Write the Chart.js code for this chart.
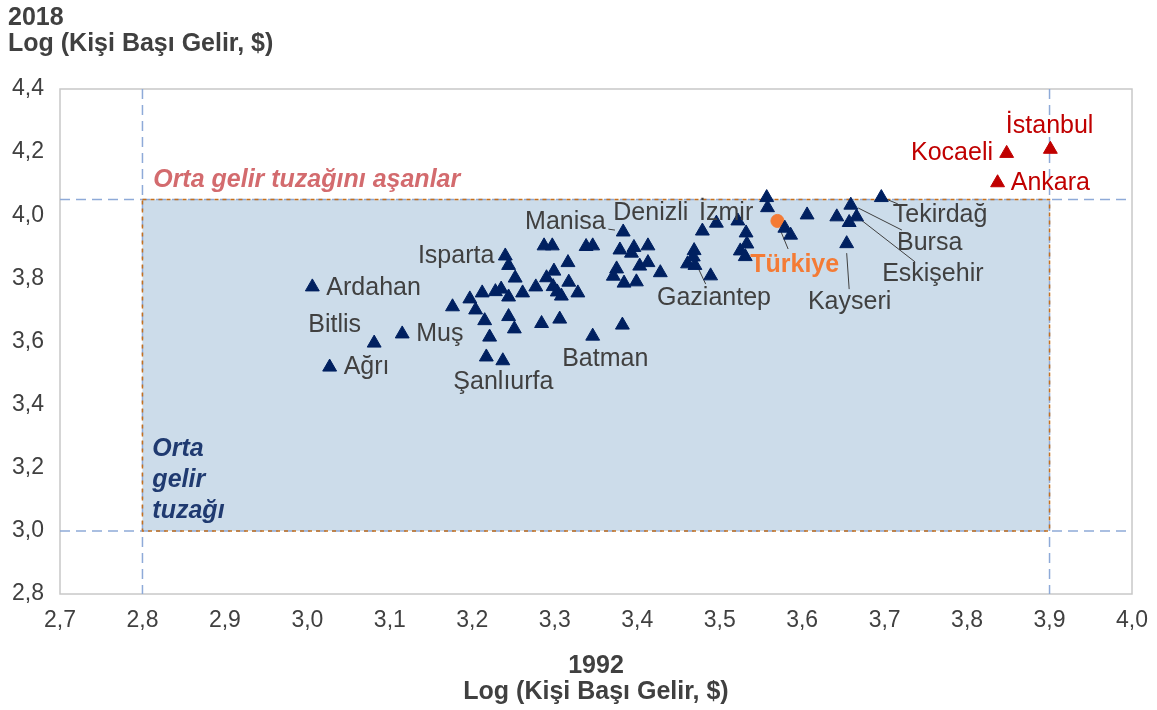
<!DOCTYPE html>
<html lang="tr">
<head>
<meta charset="utf-8">
<title>Kişi Başı Gelir 1992 - 2018</title>
<script src="https://cdn.jsdelivr.net/npm/chart.js@4/dist/chart.umd.min.js"></script>
<style>
  html, body { margin: 0; padding: 0; background: #fff; }
  #wrap { width: 1157px; height: 710px; position: relative; }
</style>
</head>
<body>
<div id="wrap"><canvas id="chart"></canvas></div>
<script>
/* ===== veriler (log kişi başı gelir, 1992 -> x, 2018 -> y) ===== */
const illerX = [
  3.006, 3.081, 3.115, 3.027,
  3.176, 3.197, 3.204, 3.212, 3.228, 3.235, 3.244, 3.261, 3.277, 3.290, 3.299, 3.316,
  3.298, 3.303, 3.308, 3.317, 3.328, 3.240, 3.244, 3.252, 3.244, 3.251, 3.215, 3.221,
  3.284, 3.306, 3.346, 3.217, 3.237, 3.287, 3.297, 3.338, 3.346, 3.383, 3.379, 3.396,
  3.413, 3.393, 3.375, 3.371, 3.403, 3.413, 3.428, 3.384, 3.399, 3.382,
  3.479, 3.469, 3.468, 3.461, 3.470, 3.489, 3.496, 3.522, 3.532, 3.533, 3.525, 3.531,
  3.557, 3.558, 3.579, 3.586, 3.606, 3.642, 3.659, 3.666, 3.657, 3.654, 3.696
];
const illerY = [
  3.773, 3.595, 3.624, 3.519,
  3.710, 3.735, 3.700, 3.754, 3.758, 3.766, 3.741, 3.754, 3.773, 3.802, 3.823, 3.850,
  3.774, 3.757, 3.744, 3.788, 3.754, 3.871, 3.841, 3.801, 3.679, 3.640, 3.666, 3.614,
  3.657, 3.671, 3.617, 3.551, 3.539, 3.903, 3.903, 3.901, 3.903, 3.947, 3.890, 3.898,
  3.903, 3.880, 3.830, 3.807, 3.839, 3.850, 3.818, 3.785, 3.789, 3.652,
  3.950, 3.888, 3.868, 3.846, 3.841, 3.808, 3.975, 3.982, 3.944, 3.909, 3.887, 3.869,
  4.056, 4.024, 3.959, 3.937, 4.001, 3.995, 4.032, 3.995, 3.977, 3.910, 4.056
];
// orta gelir tuzağını aşanlar
const asanlarAd = ['Kocaeli', 'İstanbul', 'Ankara'];
const asanlarX = [3.848, 3.901, 3.837];
const asanlarY = [4.196, 4.209, 4.103];
// Türkiye ortalaması
const turkiyeX = [3.570];
const turkiyeY = [3.982];

// tuzak sınırları
const tuzakX = [2.8, 3.9];
const tuzakY = [3.0, 4.05];

// etiketler (veri birimleriyle, yazının sol-orta noktası)
const etiketler = [
  { t: 'Ardahan', x: 3.023, y: 3.769, k: 'il' },
  { t: 'Bitlis', x: 3.001, y: 3.652, k: 'il' },
  { t: 'Muş', x: 3.132, y: 3.624, k: 'il' },
  { t: 'Ağrı', x: 3.044, y: 3.519, k: 'il' },
  { t: 'Isparta', x: 3.134, y: 3.871, k: 'il' },
  { t: 'Manisa', x: 3.264, y: 3.979, k: 'il' },
  { t: 'Denizli', x: 3.371, y: 4.007, k: 'il' },
  { t: 'İzmir', x: 3.475, y: 4.007, k: 'il' },
  { t: 'Gaziantep', x: 3.424, y: 3.738, k: 'il' },
  { t: 'Batman', x: 3.309, y: 3.545, k: 'il' },
  { t: 'Şanlıurfa', x: 3.177, y: 3.472, k: 'il' },
  { t: 'Kayseri', x: 3.607, y: 3.725, k: 'il' },
  { t: 'Tekirdağ', x: 3.710, y: 4.001, k: 'il' },
  { t: 'Bursa', x: 3.715, y: 3.912, k: 'il' },
  { t: 'Eskişehir', x: 3.697, y: 3.814, k: 'il' },
  { t: 'Türkiye', x: 3.537, y: 3.842, k: 'tr' },
  { t: 'Kocaeli', x: 3.732, y: 4.197, k: 'ust' },
  { t: 'İstanbul', x: 3.847, y: 4.283, k: 'ust' },
  { t: 'Ankara', x: 3.853, y: 4.102, k: 'ust' }
];
// kılavuz çizgileri [x1, y1, x2, y2]
const kilavuzlar = [
  [3.365, 3.956, 3.373, 3.953],
  [3.474, 3.832, 3.483, 3.782],
  [3.574, 3.950, 3.583, 3.893],
  [3.654, 3.880, 3.657, 3.766],
  [3.702, 4.051, 3.716, 4.036],
  [3.668, 4.023, 3.721, 3.953],
  [3.670, 3.988, 3.737, 3.852]
];

/* ===== renkler / yazılar ===== */
const FONT = 'Arial, "Liberation Sans", sans-serif';
const GRI = '#404040';
const LACIVERT = '#002060';
const KIRMIZI = '#c00000';
const TURUNCU = '#f47b35';

function virgul(v) { return Number(v).toFixed(1).replace('.', ','); }
function pts(xs, ys) { return xs.map((x, i) => ({ x: x, y: ys[i] })); }

const ciziciEklenti = {
  id: 'cizici',
  beforeDatasetsDraw(chart) {
    const { ctx, chartArea: a, scales: { x, y } } = chart;
    ctx.save();
    // tuzak kutusu
    const l = x.getPixelForValue(tuzakX[0]), r = x.getPixelForValue(tuzakX[1]);
    const t = y.getPixelForValue(tuzakY[1]), b = y.getPixelForValue(tuzakY[0]);
    ctx.fillStyle = '#ccdcea';
    ctx.fillRect(l, t, r - l, b - t);
    // grafik çerçevesi
    ctx.strokeStyle = '#c8c8c8';
    ctx.lineWidth = 1.5;
    ctx.strokeRect(a.left, a.top, a.right - a.left, a.bottom - a.top);
    // kesikli referans çizgileri
    ctx.strokeStyle = '#8eaad8';
    ctx.lineWidth = 1.5;
    ctx.setLineDash([10, 6]);
    tuzakY.forEach(v => {
      const py = y.getPixelForValue(v);
      ctx.beginPath(); ctx.moveTo(a.left, py); ctx.lineTo(a.right, py); ctx.stroke();
    });
    tuzakX.forEach(v => {
      const px = x.getPixelForValue(v);
      ctx.beginPath(); ctx.moveTo(px, a.top); ctx.lineTo(px, a.bottom); ctx.stroke();
    });
    // turuncu kutu kenarı
    ctx.strokeStyle = '#c5701e';
    ctx.setLineDash([4, 4]);
    ctx.strokeRect(l, t, r - l, b - t);
    ctx.setLineDash([]);
    // kılavuz çizgileri
    ctx.strokeStyle = '#404040';
    ctx.lineWidth = 1;
    kilavuzlar.forEach(k => {
      ctx.beginPath();
      ctx.moveTo(x.getPixelForValue(k[0]), y.getPixelForValue(k[1]));
      ctx.lineTo(x.getPixelForValue(k[2]), y.getPixelForValue(k[3]));
      ctx.stroke();
    });
    ctx.restore();
  },
  afterDatasetsDraw(chart) {
    const { ctx, chartArea: a, scales: { x, y } } = chart;
    ctx.save();
    ctx.textBaseline = 'middle';
    ctx.textAlign = 'left';
    etiketler.forEach(e => {
      if (e.k === 'tr') { ctx.font = 'bold 25px ' + FONT; ctx.fillStyle = TURUNCU; }
      else if (e.k === 'ust') { ctx.font = '25px ' + FONT; ctx.fillStyle = KIRMIZI; }
      else { ctx.font = '25px ' + FONT; ctx.fillStyle = GRI; }
      ctx.fillText(e.t, x.getPixelForValue(e.x), y.getPixelForValue(e.y));
    });
    // bölge yazıları
    ctx.font = 'italic bold 25px ' + FONT;
    ctx.fillStyle = '#d36b6e';
    ctx.fillText('Orta gelir tuzağını aşanlar', x.getPixelForValue(2.813), y.getPixelForValue(4.112));
    ctx.fillStyle = '#1f3a70';
    ctx.fillText('Orta', x.getPixelForValue(2.812), y.getPixelForValue(3.259));
    ctx.fillText('gelir', x.getPixelForValue(2.812), y.getPixelForValue(3.161));
    ctx.fillText('tuzağı', x.getPixelForValue(2.812), y.getPixelForValue(3.063));
    ctx.restore();
  },
  afterDraw(chart) {
    const { ctx, chartArea: a } = chart;
    ctx.save();
    ctx.fillStyle = GRI;
    ctx.font = 'bold 25px ' + FONT;
    ctx.textBaseline = 'middle';
    ctx.textAlign = 'left';
    ctx.fillText('2018', 8, 18);
    ctx.fillText('Log (Kişi Başı Gelir, $)', 8, 44);
    ctx.textAlign = 'center';
    const cx = (a.left + a.right) / 2;
    ctx.fillText('1992', cx, 666);
    ctx.fillText('Log (Kişi Başı Gelir, $)', cx, 692);
    ctx.restore();
  }
};

new Chart(document.getElementById('chart'), {
  type: 'scatter',
  data: {
    datasets: [
      {
        label: 'İller',
        data: pts(illerX, illerY),
        pointStyle: 'triangle',
        pointRadius: 8,
        backgroundColor: LACIVERT,
        borderColor: LACIVERT,
        borderWidth: 1
      },
      {
        label: 'Tuzağı aşanlar',
        data: pts(asanlarX, asanlarY),
        pointStyle: 'triangle',
        pointRadius: 8,
        backgroundColor: KIRMIZI,
        borderColor: KIRMIZI,
        borderWidth: 1
      },
      {
        label: 'Türkiye',
        data: pts(turkiyeX, turkiyeY),
        pointStyle: 'circle',
        pointRadius: 6.5,
        backgroundColor: TURUNCU,
        borderColor: TURUNCU,
        borderWidth: 1
      }
    ]
  },
  options: {
    responsive: true,
    maintainAspectRatio: false,
    animation: false,
    layout: { autoPadding: false, padding: { left: 8, top: 89, right: 25, bottom: 0 } },
    plugins: { legend: { display: false }, tooltip: { enabled: false } },
    scales: {
      x: {
        type: 'linear',
        min: 2.7,
        max: 4.0,
        grid: { display: false, drawTicks: false },
        border: { display: false },
        ticks: {
          stepSize: 0.1,
          padding: 9,
          color: GRI,
          font: { family: FONT, size: 23, lineHeight: 1.5 },
          callback: v => virgul(v)
        },
        afterFit: s => { s.height = 116; }
      },
      y: {
        type: 'linear',
        min: 2.8,
        max: 4.4,
        grid: { display: false, drawTicks: false },
        border: { display: false },
        ticks: {
          stepSize: 0.2,
          padding: 16,
          color: GRI,
          font: { family: FONT, size: 23 },
          callback: v => virgul(v)
        },
        afterFit: s => { s.width = 52; }
      }
    }
  },
  plugins: [ciziciEklenti]
});
</script>
</body>
</html>
